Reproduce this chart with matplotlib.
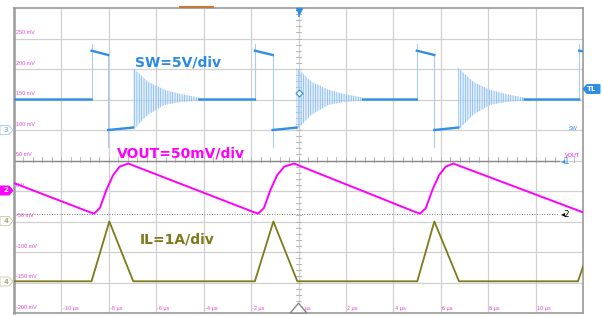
import numpy as np
import matplotlib
matplotlib.use("Agg")
import matplotlib.pyplot as plt
from matplotlib.patches import Polygon

# scope screen: time in us, vertical in mV (screen units)
t_grid = np.arange(-12, 13, 2)
mv_grid = np.arange(-200, 301, 50)
t_labels = ["-10 µs", "-8 µs", "-6 µs", "-4 µs", "-2 µs", "0 µs", "2 µs", "4 µs", "6 µs", "8 µs", "10 µs"]
mv_labels = ["-200 mV", "-150 mV", "-100 mV", "-50 mV", "0 V", "50 mV", "100 mV", "150 mV", "200 mV", "250 mV"]

# SW node edges (us) and levels (mV on screen)
sw_on = [-8.73, -1.84, 4.99, 11.84]
sw_off = [-8.03, -1.09, 5.73]
sw_ring = [-6.98, -0.08, 6.74]
sw_idle = 150
sw_high = [230, 223]
sw_low = [100, 104]
sw_spike = [241, 72]

# ringing envelope after the off phase
ring_dt = [0.0, 0.63, 1.33, 2.0, 2.8]
ring_hi = [202, 179, 166, 159, 153]
ring_lo = [100, 125, 141, 146, 148]

# output ripple
vout_t = [-12.0, -8.85, -8.62, -8.38, -8.10, -7.82, -7.54, -7.18,
          -1.93, -1.70, -1.46, -1.18, -0.90, -0.60, -0.19,
          4.90, 5.13, 5.37, 5.65, 5.93, 6.21, 6.53, 12.0]
vout_mv = [13, -34, -37, -28, 2, 26, 40, 45,
           -34, -37, -28, 2, 26, 40, 45,
           -34, -37, -28, 2, 26, 40, 45, -35]

# inductor current
il_t = [-12.0, -8.73, -7.98, -6.97, -1.84, -1.06, -0.05, 5.01, 5.73, 6.77, 11.79, 12.0]
il_mv = [-148, -148, -50, -148, -148, -50, -148, -148, -50, -148, -148, -124]

sw_col = "#2f8ee6"
sw_light = "#a9cdf2"
vout_col = "#ff00ff"
il_col = "#7f7a1c"
lab_col = "#e845d8"

plt.rcParams["hatch.linewidth"] = 0.5

fig = plt.figure(figsize=(6.02, 3.16), dpi=100)
ax = fig.add_axes([14 / 602, 3 / 316, 569 / 602, 305 / 316])
ax.set_xlim(-12, 12)
ax.set_ylim(-200, 300)
ax.set_xticks([])
ax.set_yticks([])
for s in ax.spines.values():
    s.set_color("#9a9a9a")
    s.set_linewidth(1.2)
ax.spines["left"].set_linewidth(1.8)

# grid
for t in t_grid[1:-1]:
    ax.axvline(t, color="#d0d0d0", lw=0.9, zorder=0)
for v in mv_grid[1:-1]:
    ax.axhline(v, color="#d0d0d0", lw=0.9, zorder=0)
# center minor ticks
for t in np.arange(-12, 12.01, 0.4):
    ax.plot([t, t], [47, 55], color="#b0b0b0", lw=0.6, zorder=1)
for v in np.arange(-200, 300.1, 10):
    ax.plot([-0.12, 0.12], [v, v], color="#b0b0b0", lw=0.6, zorder=1)

# channel reference lines
ax.plot([-12, 11.0], [49, 49], color="#8a8a8a", lw=1.0, zorder=1)
ax.plot([-12, 11.0], [-38, -38], color="#555555", lw=0.6, ls=(0, (1, 2)), zorder=1)
ax.text(11.05, 49, "◂1", color=sw_col, fontsize=6, va="center", ha="left")
ax.text(11.05, -38, "◂2", color="black", fontsize=6, va="center", ha="left")

# axis labels inside the screen
for v, s in zip(mv_grid[:-1], mv_labels):
    ax.text(-11.93, v + 5, s, color=lab_col, fontsize=4, family="Liberation Sans",
            ha="left", va="bottom")
for t, s in zip(t_grid[1:-1], t_labels):
    ax.text(t + 0.05, -193, s, color=lab_col, fontsize=4, family="Liberation Sans",
            ha="left", va="center")

# SW trace: flat parts thick, switching edges thin
flat_t, flat_v = [-12.0], [sw_idle]
for i, t_on in enumerate(sw_on):
    flat_t += [t_on, np.nan, t_on]
    flat_v += [sw_idle, np.nan, sw_high[0]]
    ax.plot([t_on, t_on], [sw_idle, sw_spike[0]], color=sw_light, lw=0.8, zorder=2)
    if i < len(sw_off):
        flat_t += [sw_off[i], np.nan, sw_off[i], sw_ring[i], np.nan, sw_ring[i] + ring_dt[-1]]
        flat_v += [sw_high[1], np.nan, sw_low[0], sw_low[1], np.nan, sw_idle]
        ax.plot([sw_off[i], sw_off[i]], [sw_high[1], sw_spike[1]], color=sw_light, lw=0.8, zorder=2)
    else:
        flat_t += [12.0]
        flat_v += [sw_high[0] - 1]
ax.plot(flat_t, flat_v, color=sw_col, lw=1.7, zorder=3)
for r in sw_ring:
    tt = r + np.array(ring_dt)
    ax.fill_between(tt, ring_lo, ring_hi, facecolor=(0.78, 0.88, 0.98, 0.5),
                    edgecolor="#78b2f0", hatch="|" * 7, linewidth=0, zorder=2)

# VOUT and IL
ax.plot(vout_t, vout_mv, color=vout_col, lw=1.4, zorder=3)
ax.plot(il_t, il_mv, color=il_col, lw=1.3, zorder=3)

# channel captions
ax.text(-5.1, 211, "SW=5V/div", color="#2a8ae8", fontsize=10, fontweight="bold", ha="center", va="center")
ax.text(-4.95, 62, "VOUT=50mV/div", color=vout_col, fontsize=10, fontweight="bold", ha="center", va="center")
ax.text(-5.1, -80, "IL=1A/div", color=il_col, fontsize=10, fontweight="bold", ha="center", va="center")
ax.text(11.6, 98, "SW", color=sw_col, fontsize=4, family="Liberation Sans", ha="center", va="bottom")
ax.text(11.55, 54, "VOUT", color=vout_col, fontsize=4, family="Liberation Sans", ha="center", va="bottom")

# trigger markers
ax.text(0, 290, "T", color=sw_col, fontsize=6, fontweight="bold", ha="center", va="center")
ax.plot([0], [295.5], marker="v", color=sw_col, ms=4, clip_on=False, zorder=5)
ax.plot([0], [160], marker="D", mfc="white", mec=sw_col, ms=3.5, mew=0.8, zorder=5)
ax.add_patch(Polygon([[-0.35, -200], [0.35, -200], [0, -184]], closed=True,
                     facecolor="white", edgecolor="#888888", lw=1.0, zorder=5, clip_on=False))


def tag(py, label, fc, ec, tc, left=True):
    y = 1 - py / 316
    h = 4.5 / 316
    if left:
        x0, x1 = 0 / 602, 13 / 602
        pts = [[x0, y - h], [x1 - 4 / 602, y - h], [x1, y], [x1 - 4 / 602, y + h], [x0, y + h]]
        xc = 6 / 602
    else:
        x0, x1 = 583 / 602, 600 / 602
        pts = [[x1, y - h], [x0 + 4 / 602, y - h], [x0, y], [x0 + 4 / 602, y + h], [x1, y + h]]
        xc = 592 / 602
    fig.patches.append(Polygon(pts, closed=True, facecolor=fc, edgecolor=ec, lw=0.7,
                               transform=fig.transFigure, figure=fig))
    fig.text(xc, y, label, color=tc, fontsize=5, ha="center", va="center", fontweight="bold")


tag(130, "3", "white", "#a8cdf0", "#8fbfee")
tag(190.5, "2", vout_col, vout_col, "white")
tag(221, "4", "white", "#cfcfb0", "#b0ad80")
tag(281.5, "4", "white", "#cfcfb0", "#b0ad80")
tag(89, "TL", sw_col, sw_col, "white", left=False)

# record bar at top
fig.add_artist(plt.Line2D([180 / 602, 213 / 602], [1 - 7 / 316, 1 - 7 / 316],
                          color="#c8783a", lw=1.5, transform=fig.transFigure))

fig.savefig("out.png", dpi=100)
